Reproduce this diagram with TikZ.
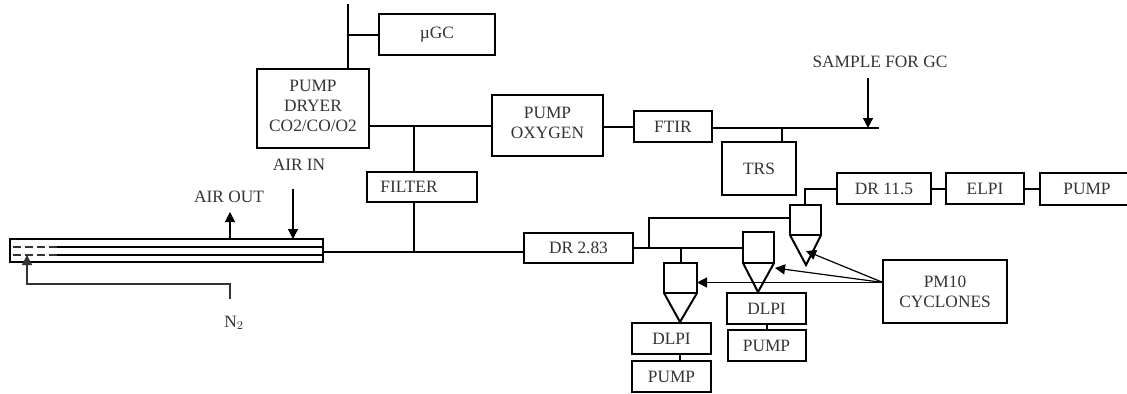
\documentclass[tikz,border=0pt]{standalone}
\usepackage{fontspec}
\setmainfont{Liberation Serif}
\usepackage{tikz}
\usetikzlibrary{arrows.meta, positioning}

\newcommand{\px}{0.75pt}

\begin{document}
\begin{tikzpicture}[
    x=0.75pt, y=-0.75pt,
    every node/.style={font=\fontsize{13}{15}\selectfont, text=black!80},
    block/.style={
        rectangle,
        draw=black,
        line width=1.5pt,
        inner sep=0pt,
        outer sep=0pt,
        align=center
    },
    tag/.style={inner sep=0pt},
    pipe/.style={line width=1.5pt},
    thin pipe/.style={line width=0.8pt, black!80},
    arrow/.style={line width=0.9pt,-{Triangle[length=7.5pt,width=7.5pt]}}
]
\useasboundingbox (0,0) rectangle (1127,393);

% upper line
\node (ugc) [block, minimum width=116*\px, minimum height=41*\px] at (437,34.5) {µGC};
\node (dryer) [block, minimum width=112*\px, minimum height=79*\px] at (313,108.5) {PUMP\\DRYER\\CO2/CO/O2\\[-10.5pt]};
\node (oxygen) [block, minimum width=111*\px, minimum height=61*\px] at (547.5,125.5) {PUMP\\OXYGEN\\[-10.5pt]};
\node (ftir) [block, minimum width=78*\px, minimum height=31*\px] at (673,126.5) {FTIR};
\node (trs) [block, minimum width=74*\px, minimum height=53*\px] at (759,168.5) {TRS};
\node (filter) [block, minimum width=110*\px, minimum height=30*\px] at (422,187) {FILTER\hspace*{19.5pt}};

% lower line
\node (dra) [block, minimum width=109*\px, minimum height=30*\px] at (578.5,248) {DR 2.83};
\node (drb) [block, minimum width=94*\px, minimum height=31*\px] at (884,188.5) {DR 11.5};
\node (elpi) [block, minimum width=78*\px, minimum height=31*\px, right=15*\px of drb] {ELPI};
\node (pumpc) [block, minimum width=94*\px, minimum height=32*\px, right=16*\px of elpi] {PUMP};
\node (cyclones) [block, minimum width=124*\px, minimum height=63*\px] at (945,291.5) {PM10\\CYCLONES};

% cyclones
\node (cyca) [block, minimum width=33*\px, minimum height=30*\px] at (680.5,278) {};
\node (cycb) [block, minimum width=31*\px, minimum height=31*\px] at (758.5,247.5) {};
\node (cycc) [block, minimum width=31*\px, minimum height=30*\px] at (805.5,220) {};
\coordinate (tipa) at (680,322);
\coordinate (tipb) at (758,292);
\coordinate (tipc) at (806,265);
\draw[pipe] (cyca.south west) -- (tipa) -- (cyca.south east);
\draw[pipe] (cycb.south west) -- (tipb) -- (cycb.south east);
\draw[pipe] (cycc.south west) -- (tipc) -- (cycc.south east);

\node (dlpia) [block, minimum width=79*\px, minimum height=31*\px] at (671.5,338.5) {DLPI};
\node (pumpa) [block, minimum width=79*\px, minimum height=31*\px, below=7*\px of dlpia] {PUMP};
\node (dlpib) [block, minimum width=79*\px, minimum height=31*\px] at (766.5,308.5) {DLPI};
\node (pumpb) [block, minimum width=78*\px, minimum height=31*\px, below=6*\px of dlpib] {PUMP};

% tube
\node (tube) [block, minimum width=313*\px, minimum height=23*\px] at (166.5,250.5) {};
\coordinate (innera) at (57,247);
\coordinate (innerb) at (57,255);
\draw[pipe] (innera) -- (innera -| tube.east);
\draw[pipe] (innerb) -- (innerb -| tube.east);
\draw[thin pipe, dash pattern=on 6pt off 3pt] (innera) -- (innera -| tube.west);
\draw[thin pipe, dash pattern=on 6pt off 3pt] (innerb) -- (innerb -| tube.west);

% labels
\node (airout) [tag] at (229,197) {AIR OUT};
\node (airin) [tag] at (299,165) {AIR IN};
\node (nitrogen) [tag] at (234,323) {N$_2$};
\node (sample) [tag] at (880,62) {SAMPLE FOR GC};

% free ends
\coordinate (top) at (348,4);
\coordinate (ugcjoin) at (348,35);
\coordinate (filterjoin) at (414,126);
\coordinate (mainjoin) at (414,252);
\coordinate (trsjoin) at (782,128);
\coordinate (branch) at (649,248);
\coordinate (cycajoin) at (680.5,248);
\coordinate (airouttip) at (230,212);
\coordinate (airinstart) at (293,189);
\coordinate (nstart) at (230,299);
\coordinate (nbend) at (230,284);
\coordinate (ntip) at (27,255);
\coordinate (samplestart) at (868,78);
\coordinate (sampletip) at (868,128);
\coordinate (sampleend) at (879,128);
\coordinate (pmout) at (883,282.5);

% Pipes
\draw[pipe] (dryer.north -| top) -- (top);
\draw[pipe] (ugcjoin) -- (ugc.west |- ugcjoin);
\draw[pipe] (dryer.east |- filterjoin) -- (oxygen.west |- filterjoin);
\draw[pipe] (filterjoin) -- (filterjoin |- filter.north);
\draw[pipe] (oxygen.east |- 0,127) -- (ftir.west |- 0,127);
\draw[pipe] (ftir.east |- sampleend) -- (sampleend);
\draw[pipe] (trsjoin) -- (trsjoin |- trs.north);
\draw[pipe] (mainjoin |- filter.south) -- (mainjoin);
\draw[pipe] (tube.east |- mainjoin) -- (mainjoin -| dra.west);
\draw[pipe] (dra.east) -- (cycb.west |- dra.east);
\draw[pipe] (branch) |- (cycc.west |- 0,218);
\draw[pipe] (cycajoin) -- (cyca.north);
\draw[pipe] (tipb) -- (tipb |- dlpib.north);
\draw[pipe] (tipa) -- (tipa |- dlpia.north);
\draw[pipe] (dlpia.south -| tipa) -- (pumpa.north -| tipa);
\draw[pipe] (dlpib.south -| pumpb) -- (pumpb.north);
\draw[pipe] (cycc.north -| 805,0) |- (drb.west);
\draw[pipe] (drb.east) -- (elpi.west);
\draw[pipe] (elpi.east) -- (pumpc.west);

% Arrows
\draw[arrow] (tube.north -| airouttip) -- (airouttip);
\draw[arrow] (airinstart) -- (tube.north -| airinstart);
\draw[thin pipe, arrow] (nstart) -- (nbend) -- (nbend -| ntip) -- (ntip);
\draw[arrow] (samplestart) -- (sampletip);
\draw[arrow] (pmout) -- (pmout -| cyca.east);
\draw[arrow] (pmout) -- (775,268);
\draw[arrow] (pmout) -- (806,251);

\end{tikzpicture}
\end{document}
